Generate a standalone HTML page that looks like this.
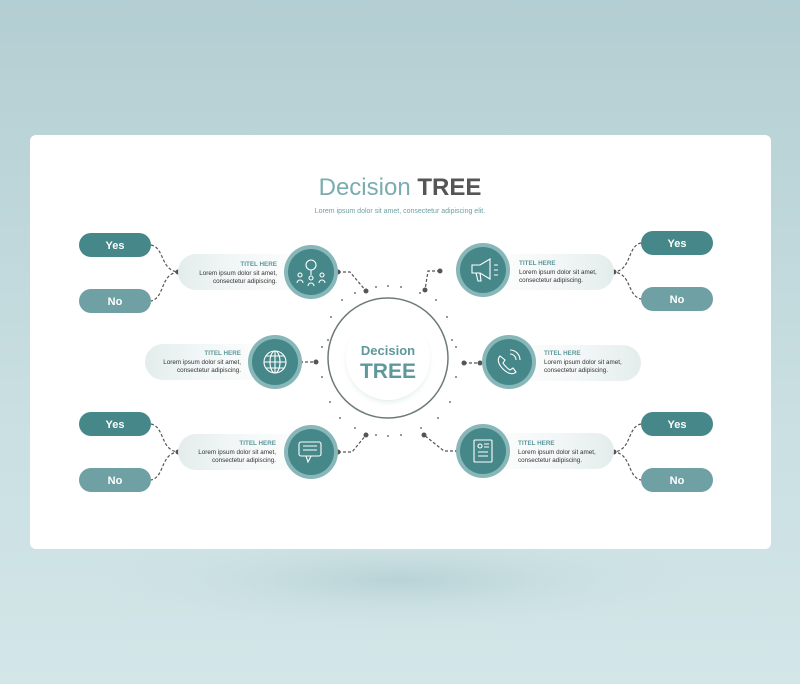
<!DOCTYPE html>
<html><head><meta charset="utf-8"><style>
html,body{margin:0;padding:0;width:800px;height:684px;overflow:hidden}
body{background:linear-gradient(#b3ced2,#c9dfe2 60%,#d3e6e8);font-family:"Liberation Sans",sans-serif}
svg{display:block}
</style></head><body>
<svg width="800" height="684" viewBox="0 0 800 684" xmlns="http://www.w3.org/2000/svg">
<defs>
<linearGradient id="gl" x1="0" x2="1"><stop offset="0" stop-color="#e3ecec"/><stop offset="1" stop-color="#f6f9f9" stop-opacity="0.3"/></linearGradient>
<linearGradient id="gr" x1="1" x2="0"><stop offset="0" stop-color="#e3ecec"/><stop offset="1" stop-color="#f6f9f9" stop-opacity="0.3"/></linearGradient>
<radialGradient id="sh"><stop offset="0.8" stop-color="#dfeaea"/><stop offset="1" stop-color="#fff" stop-opacity="0"/></radialGradient>
<radialGradient id="fl" cx="0.5" cy="0.5" r="0.5"><stop offset="0" stop-color="#a9c7cb" stop-opacity="0.6"/><stop offset="1" stop-color="#c9dfe2" stop-opacity="0"/></radialGradient>
</defs>
<ellipse cx="400" cy="580" rx="300" ry="50" fill="url(#fl)"/>
<rect x="30" y="135" width="741" height="414" rx="6" fill="#fff"/>
<text x="400" y="195" text-anchor="middle" font-size="24" fill="#79adb1">Decision <tspan font-weight="bold" fill="#555">TREE</tspan></text>
<text x="400" y="213" text-anchor="middle" font-size="7" fill="#6a9fa3">Lorem ipsum dolor sit amet, consectetur adipiscing elit.</text>

<circle cx="388" cy="361" r="47" fill="url(#sh)"/>
<circle cx="388" cy="358" r="42" fill="#fff"/>
<circle cx="388" cy="358" r="60" fill="none" stroke="#6e7a7a" stroke-width="1.5"/>
<text x="388" y="355" text-anchor="middle" font-size="13" font-weight="bold" fill="#5f989c">Decision</text>
<text x="388" y="378" text-anchor="middle" font-size="21" font-weight="bold" fill="#5f989c">TREE</text>
<g fill="#777">
<circle cx="342" cy="300" r="1"/><circle cx="331" cy="317" r="1"/><circle cx="328" cy="340" r="1"/><circle cx="322" cy="347" r="1"/><circle cx="322" cy="377" r="1"/><circle cx="330" cy="402" r="1"/><circle cx="340" cy="418" r="1"/>
<circle cx="388" cy="286" r="1"/><circle cx="401" cy="287" r="1"/><circle cx="376" cy="287" r="1"/><circle cx="388" cy="436" r="1"/><circle cx="401" cy="435" r="1"/><circle cx="376" cy="435" r="1"/>
<circle cx="436" cy="300" r="1"/><circle cx="447" cy="317" r="1"/><circle cx="452" cy="340" r="1"/><circle cx="456" cy="347" r="1"/><circle cx="456" cy="377" r="1"/><circle cx="450" cy="402" r="1"/><circle cx="438" cy="418" r="1"/>
<circle cx="355" cy="293" r="1"/><circle cx="420" cy="293" r="1"/><circle cx="355" cy="428" r="1"/><circle cx="421" cy="428" r="1"/>
</g>

<g fill="none" stroke="#555" stroke-width="1.2" stroke-dasharray="3,2">
<path d="M338 272 L350 272 L366 291"/>
<path d="M440 271 L428 271 L425 290"/>
<path d="M300 362 L316 362"/>
<path d="M464 363 L480 363"/>
<path d="M338 452 L352 452 L366 435"/>
<path d="M458 451 L444 451 L424 435"/>
<path d="M151 245 C165 248,160 270,178 272 C160 274,165 298,151 301"/>
<path d="M641 243 C627 246,632 270,614 272 C632 274,627 296,641 299"/>
<path d="M151 424 C165 427,160 450,178 452 C160 454,165 477,151 480"/>
<path d="M641 424 C627 427,632 450,614 452 C632 454,627 477,641 480"/>
</g>
<g fill="#555">
<circle cx="338" cy="272" r="2.5"/><circle cx="366" cy="291" r="2.5"/><circle cx="440" cy="271" r="2.5"/><circle cx="425" cy="290" r="2.5"/>
<circle cx="300" cy="362" r="2.5"/><circle cx="316" cy="362" r="2.5"/><circle cx="464" cy="363" r="2.5"/><circle cx="480" cy="363" r="2.5"/>
<circle cx="338" cy="452" r="2.5"/><circle cx="366" cy="435" r="2.5"/><circle cx="458" cy="451" r="2.5"/><circle cx="424" cy="435" r="2.5"/>
<circle cx="178" cy="272" r="2.5"/><circle cx="614" cy="272" r="2.5"/><circle cx="178" cy="452" r="2.5"/><circle cx="614" cy="452" r="2.5"/>
</g>

<rect x="178" y="254" width="125" height="36" rx="18" fill="url(#gl)"/>
<rect x="145" y="344" width="125" height="36" rx="18" fill="url(#gl)"/>
<rect x="178" y="434" width="125" height="36" rx="18" fill="url(#gl)"/>
<rect x="490" y="254" width="124" height="36" rx="18" fill="url(#gr)"/>
<rect x="515" y="345" width="126" height="36" rx="18" fill="url(#gr)"/>
<rect x="490" y="433" width="124" height="36" rx="18" fill="url(#gr)"/>
<g font-size="6.3" fill="#333">
<g text-anchor="end">
<text x="277" y="266" font-weight="bold" fill="#5f989c">TITEL HERE</text><text x="277" y="275">Lorem ipsum dolor sit amet,</text><text x="277" y="283">consectetur adipiscing.</text>
<text x="241" y="355" font-weight="bold" fill="#5f989c">TITEL HERE</text><text x="241" y="364">Lorem ipsum dolor sit amet,</text><text x="241" y="372">consectetur adipiscing.</text>
<text x="276" y="445" font-weight="bold" fill="#5f989c">TITEL HERE</text><text x="276" y="454">Lorem ipsum dolor sit amet,</text><text x="276" y="462">consectetur adipiscing.</text>
</g>
<text x="519" y="265" font-weight="bold" fill="#5f989c">TITEL HERE</text><text x="519" y="274">Lorem ipsum dolor sit amet,</text><text x="519" y="282">consectetur adipiscing.</text>
<text x="544" y="355" font-weight="bold" fill="#5f989c">TITEL HERE</text><text x="544" y="364">Lorem ipsum dolor sit amet,</text><text x="544" y="372">consectetur adipiscing.</text>
<text x="518" y="445" font-weight="bold" fill="#5f989c">TITEL HERE</text><text x="518" y="454">Lorem ipsum dolor sit amet,</text><text x="518" y="462">consectetur adipiscing.</text>
</g>

<g>
<circle cx="311" cy="272" r="27" fill="#88b7b9"/><circle cx="311" cy="272" r="23" fill="#468789"/>
<circle cx="275" cy="362" r="27" fill="#88b7b9"/><circle cx="275" cy="362" r="23" fill="#468789"/>
<circle cx="311" cy="452" r="27" fill="#88b7b9"/><circle cx="311" cy="452" r="23" fill="#468789"/>
<circle cx="483" cy="270" r="27" fill="#88b7b9"/><circle cx="483" cy="270" r="23" fill="#468789"/>
<circle cx="509" cy="362" r="27" fill="#88b7b9"/><circle cx="509" cy="362" r="23" fill="#468789"/>
<circle cx="483" cy="451" r="27" fill="#88b7b9"/><circle cx="483" cy="451" r="23" fill="#468789"/>
</g>
<g fill="none" stroke="#fff" stroke-width="1.1">
<circle cx="311" cy="265" r="5"/><circle cx="300" cy="275" r="2"/><circle cx="311" cy="278" r="2"/><circle cx="322" cy="275" r="2"/>
<path d="M297 283 a3 3 0 0 1 6 0 M308 286 a3 3 0 0 1 6 0 M319 283 a3 3 0 0 1 6 0 M311 270 v5"/>
<circle cx="275" cy="362" r="11"/><ellipse cx="275" cy="362" rx="5" ry="11"/><path d="M264 362 h22 M266 356 h18 M266 368 h18 M275 351 v22"/>
<rect x="299" y="442" width="22" height="14" rx="2"/><path d="M306 456 l2 6 l3 -6 M303 446 h14 M303 450 h14"/>
<path d="M472 265 h8 l10 -6 v20 l-10 -6 h-8 z M476 273 l2 8 h3 l-1 -8 M494 265 h4 M494 270 h4 M494 275 h4"/>
<path d="M500 356 c-3 3,-2 8,3 13 c5 5,10 6,13 3 l-3 -4 l-3 2 c-2 -1,-6 -5,-7 -7 l2 -3 z M510 354 a6 6 0 0 1 6 6 M510 350 a10 10 0 0 1 10 10"/>
<rect x="474" y="440" width="18" height="22" rx="1"/><path d="M478 452 h10 M478 456 h10 M484 444 h5 M484 447 h5"/><circle cx="480" cy="446" r="2"/>
</g>

<g font-size="11" font-weight="bold" fill="#fff" text-anchor="middle">
<rect x="79" y="233" width="72" height="24" rx="12" fill="#468789"/><text x="115" y="249">Yes</text>
<rect x="79" y="289" width="72" height="24" rx="12" fill="#6fa0a3"/><text x="115" y="305">No</text>
<rect x="79" y="412" width="72" height="24" rx="12" fill="#468789"/><text x="115" y="428">Yes</text>
<rect x="79" y="468" width="72" height="24" rx="12" fill="#6fa0a3"/><text x="115" y="484">No</text>
<rect x="641" y="231" width="72" height="24" rx="12" fill="#468789"/><text x="677" y="247">Yes</text>
<rect x="641" y="287" width="72" height="24" rx="12" fill="#6fa0a3"/><text x="677" y="303">No</text>
<rect x="641" y="412" width="72" height="24" rx="12" fill="#468789"/><text x="677" y="428">Yes</text>
<rect x="641" y="468" width="72" height="24" rx="12" fill="#6fa0a3"/><text x="677" y="484">No</text>
</g>
</svg>
</body></html>
